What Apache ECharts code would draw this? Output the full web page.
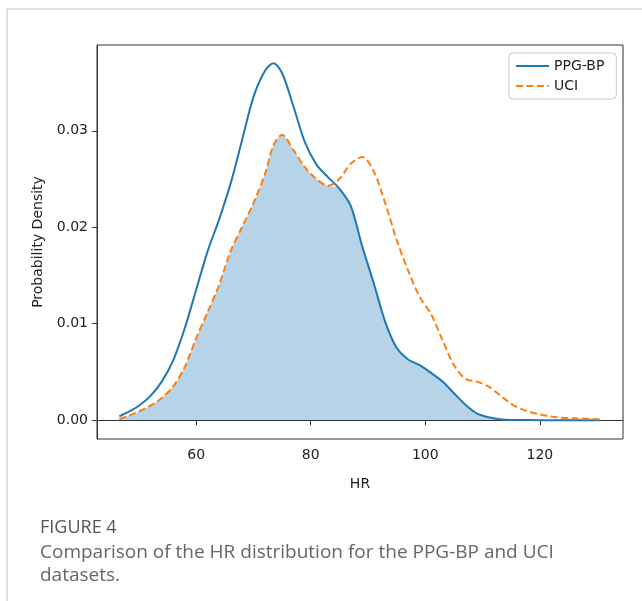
<!DOCTYPE html>
<html>
<head>
<meta charset="utf-8">
<script src="https://cdn.jsdelivr.net/npm/echarts@6/dist/echarts.min.js"></script>
<style>
html,body{margin:0;padding:0;background:#fff;}
#c{width:642px;height:601px;}
</style>
</head>
<body>
<div id="c"></div>
<script>
// HR grid (shared evaluation points)
const hrValues = [46.6,48,50,52,54,56,58,60,62,64,66,68,70,72,73.5,75,77,79,81,83,85,87,89,91,93,95,97,99,101,103,105,107,109,111,113,115,117,120,123,126,130.4];
// PPG-BP density
const ppgDensity = [0.0004,0.0008,0.0015,0.0025,0.0040,0.0062,0.0095,0.0135,0.0175,0.0208,0.0245,0.0290,0.0335,0.0362,0.0370,0.0360,0.0325,0.0288,0.0265,0.0252,0.0240,0.0222,0.0180,0.0142,0.0102,0.0075,0.0063,0.0057,0.0049,0.0040,0.0028,0.0016,0.0007,0.0003,0.0001,0.00003,0.00002,0,0,0,0];
// UCI density
const uciDensity = [0.0001,0.0004,0.0009,0.0015,0.0023,0.0035,0.0055,0.0085,0.0112,0.0140,0.0175,0.0200,0.0225,0.0255,0.0285,0.0296,0.0280,0.0262,0.0250,0.0243,0.0250,0.0266,0.0273,0.0258,0.0225,0.0187,0.0155,0.0128,0.0110,0.0083,0.0057,0.0043,0.0040,0.0035,0.0026,0.0017,0.0011,0.0006,0.0003,0.0002,0.0001];
const xTicks = [60,80,100,120];
const yTicks = [0,0.01,0.02,0.03];
const seriesNames = ['PPG-BP','UCI'];

const ppgData = hrValues.map((x,i)=>[x,ppgDensity[i]]);
const uciData = hrValues.map((x,i)=>[x,uciDensity[i]]);
const overlapData = hrValues.map((x,i)=>[x,Math.min(ppgDensity[i],uciDensity[i])]);

const chart = echarts.init(document.getElementById('c'), null, {renderer:'canvas'});
const tickFont = {fontFamily:'DejaVu Sans', fontSize:14, color:'#222'};
chart.setOption({
  animation:false,
  backgroundColor:'#fff',
  grid:{left:97,right:19,top:45,bottom:162,show:true,borderColor:'#333',borderWidth:1,backgroundColor:'transparent'},
  xAxis:{
    type:'value', min:42.7, max:134.5,
    name:'HR', nameLocation:'middle', nameGap:38,
    nameTextStyle:{fontFamily:'DejaVu Sans',fontSize:14,color:'#222'},
    axisLine:{show:true,lineStyle:{color:'#333',width:1}},
    axisTick:{show:true,length:5,lineStyle:{color:'#333'},customValues:xTicks},
    axisLabel:Object.assign({customValues:xTicks,margin:9},tickFont),
    splitLine:{show:false}
  },
  yAxis:{
    type:'value', min:-0.00195, max:0.0389,
    name:'Probability Density', nameLocation:'middle', nameGap:52,
    nameTextStyle:{fontFamily:'DejaVu Sans',fontSize:14,color:'#222'},
    axisLine:{show:true,lineStyle:{color:'#333',width:1}},
    axisTick:{show:true,length:5,lineStyle:{color:'#333'},customValues:yTicks},
    axisLabel:Object.assign({customValues:yTicks,margin:9,formatter:v=>v.toFixed(2)},tickFont),
    splitLine:{show:false}
  },
  legend:{
    data:seriesNames, orient:'vertical', left:509, top:53,
    backgroundColor:'#fff', borderColor:'#ccc', borderWidth:1, borderRadius:4,
    padding:[6,12,6,6], itemGap:6, itemWidth:33, itemHeight:12,
    itemStyle:{opacity:0},
    textStyle:{fontFamily:'DejaVu Sans',fontSize:14,color:'#222'}
  },
  series:[
    {name:'overlap', type:'line', data:overlapData, smooth:0.3, symbol:'none',
     lineStyle:{width:0}, areaStyle:{color:'rgba(31,119,180,0.32)',opacity:1,origin:0}, z:1, silent:true},
    {name:'PPG-BP', type:'line', data:ppgData, smooth:0.3, symbol:'none',
     lineStyle:{color:'#1f77b4',width:2}, itemStyle:{color:'#1f77b4'}, z:3},
    {name:'UCI', type:'line', data:uciData, smooth:0.3, symbol:'none',
     lineStyle:{color:'#ff7f0e',width:2,type:[7,3.5]}, itemStyle:{color:'#ff7f0e'}, z:4}
  ],
  graphic:[
    {type:'line',shape:{x1:7,y1:9,x2:642,y2:9},style:{stroke:'#d4d4d4',lineWidth:1.5}},
    {type:'line',shape:{x1:7,y1:9,x2:7,y2:601},style:{stroke:'#d4d4d4',lineWidth:1.5}},
    {type:'text',left:40,top:519,style:{text:'FIGURE 4',font:'18px "Open Sans"',fill:'#555'}},
    {type:'text',left:40,top:543,style:{text:'Comparison of the HR distribution for the PPG-BP and UCI',font:'19px "Open Sans"',fill:'#666'}},
    {type:'text',left:40,top:566,style:{text:'datasets.',font:'19px "Open Sans"',fill:'#666'}}
  ]
});
</script>
</body>
</html>
